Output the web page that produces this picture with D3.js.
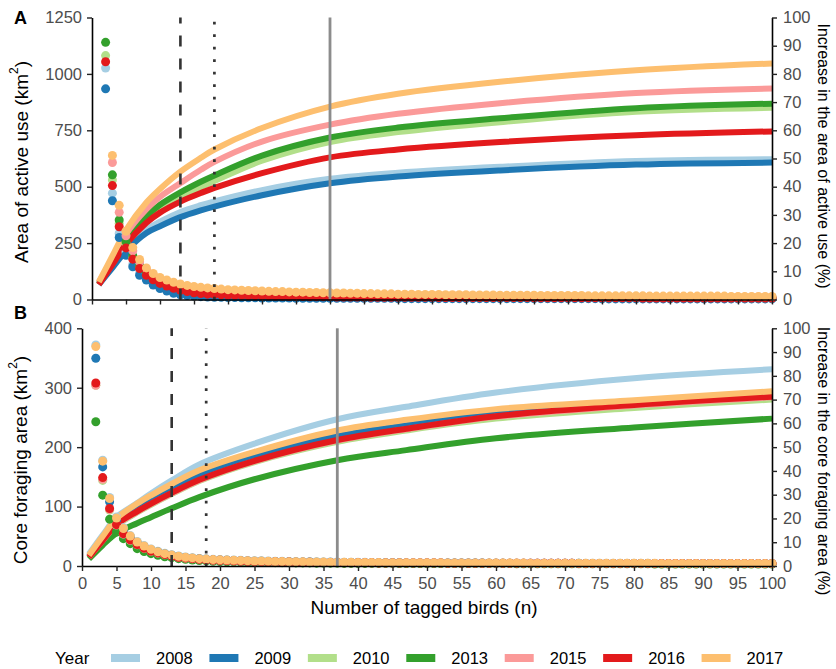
<!DOCTYPE html>
<html>
<head>
<meta charset="utf-8">
<script src="https://cdn.jsdelivr.net/npm/d3@7"></script>
<style>
  body { margin: 0; background: #fff; }
  svg { display: block; }
  text { font-family: "Liberation Sans", Arial, Helvetica, sans-serif; }
</style>
</head>
<body>
<svg id="chart" width="836" height="669"></svg>
<script>
// ---- categories and styling ----
const years  = ["2008", "2009", "2010", "2013", "2015", "2016", "2017"];
const colors = ["#a6cee3", "#1f78b4", "#b2df8a", "#33a02c", "#fb9a99", "#e31a1c", "#fdbf6f"];

// ---- tick labels ----
const xTicks      = [0, 5, 10, 15, 20, 25, 30, 35, 40, 45, 50, 55, 60, 65, 70, 75, 80, 85, 90, 95, 100];
const activeTicks = [0, 250, 500, 750, 1000, 1250];
const coreTicks   = [0, 100, 200, 300, 400];
const pctTicks    = [0, 10, 20, 30, 40, 50, 60, 70, 80, 90, 100];

// ---- accumulation curves: area (km²) against number of tagged birds ----
const activeN    = [1, 3, 5, 8, 10, 13, 16, 18, 25, 35, 45, 60, 80, 100];
const active2008 = [68, 146, 225, 310, 345, 388, 418, 435, 485, 535, 562, 588, 614, 622];
const active2009 = [66, 140, 215, 295, 325, 365, 395, 412, 462, 515, 545, 572, 598, 607];
const active2010 = [68, 164, 260, 355, 400, 452, 498, 525, 615, 698, 742, 786, 832, 850];
const active2013 = [70, 170, 270, 370, 420, 475, 522, 550, 638, 718, 762, 803, 848, 868];
const active2015 = [75, 183, 290, 400, 455, 516, 575, 610, 700, 775, 823, 870, 915, 935];
const active2016 = [66, 155, 245, 340, 385, 434, 472, 495, 560, 630, 665, 698, 728, 745];
const active2017 = [78, 193, 308, 430, 490, 567, 628, 665, 760, 855, 912, 965, 1016, 1046];

const coreN    = [1, 3, 5, 8, 10, 13, 17, 25, 37, 47, 60, 80, 100];
const core2008 = [20, 52, 82, 106, 122, 144, 171, 206, 247, 268, 292, 316, 331];
const core2009 = [16, 45, 73, 96, 110, 129, 153, 184, 219, 237, 258, 273, 287];
const core2010 = [14, 42, 68, 90, 103, 121, 143, 175, 209, 228, 248, 266, 280];
const core2013 = [12, 35, 55, 72, 82, 97, 116, 146, 178, 195, 215, 233, 248];
const core2015 = [15, 43, 69, 91, 104, 122, 144, 176, 211, 230, 251, 270, 284];
const core2016 = [15, 43, 70, 92, 105, 123, 145, 177, 212, 231, 252, 271, 285];
const core2017 = [18, 50, 80, 105, 119, 138, 161, 192, 228, 246, 264, 279, 294];

// ---- increase in area (%) with each added bird, n = 2 .. 100 ----
// null: value beyond the 100 % axis limit
const activeInc2008 = [82.1, 37.7, 23.5, 16.8, 12.5, 9.4, 7.4, 5.8, 4.7, 3.8, 3.1, 2.6, 2.2, 1.9, 1.7, 1.5,
  1.4, 1.3, 1.2, 1.1, 1.0, 1.0, 0.9, 0.9, 0.8, 0.8, 0.8, 0.7, 0.7,
  0.7, 0.7, 0.6, 0.6, 0.6, 0.6, 0.6, 0.6, 0.6, 0.6,
  0.6, 0.6, 0.6, 0.6, 0.5, 0.5, 0.5, 0.5, 0.5, 0.5,
  0.5, 0.5, 0.5, 0.5, 0.5, 0.5, 0.5, 0.5, 0.5, 0.5,
  0.5, 0.5, 0.5, 0.4, 0.4, 0.4, 0.4, 0.4, 0.4, 0.4,
  0.4, 0.4, 0.4, 0.4, 0.4, 0.4, 0.4, 0.4, 0.4, 0.4,
  0.4, 0.4, 0.4, 0.4, 0.4, 0.4, 0.3, 0.3, 0.3, 0.3,
  0.3, 0.3, 0.3, 0.3, 0.3, 0.3, 0.3, 0.3, 0.3, 0.3];
const activeInc2009 = [74.7, 35.0, 22.0, 15.7, 11.6, 8.6, 6.9, 5.1, 3.9, 3.0, 2.2, 1.7, 1.4, 1.2, 1.0, 0.9,
  0.8, 0.8, 0.7, 0.7, 0.6, 0.6, 0.6, 0.5, 0.5, 0.5, 0.5, 0.5, 0.4,
  0.4, 0.4, 0.4, 0.4, 0.4, 0.4, 0.4, 0.4, 0.4, 0.4,
  0.4, 0.4, 0.4, 0.4, 0.3, 0.3, 0.3, 0.3, 0.3, 0.3,
  0.3, 0.3, 0.3, 0.3, 0.3, 0.3, 0.3, 0.3, 0.3, 0.3,
  0.3, 0.3, 0.3, 0.3, 0.3, 0.3, 0.3, 0.3, 0.3, 0.3,
  0.3, 0.3, 0.3, 0.3, 0.2, 0.2, 0.2, 0.2, 0.2, 0.2,
  0.2, 0.2, 0.2, 0.2, 0.2, 0.2, 0.2, 0.2, 0.2, 0.2,
  0.2, 0.2, 0.2, 0.2, 0.2, 0.2, 0.2, 0.2, 0.2, 0.2];
const activeInc2010 = [86.5, 42.4, 27.0, 19.8, 15.0, 11.7, 9.3, 7.6, 6.3, 5.4, 4.7, 4.2, 3.8, 3.4, 3.1, 2.9,
  2.7, 2.5, 2.4, 2.3, 2.2, 2.1, 2.0, 1.9, 1.9, 1.8, 1.7, 1.7, 1.6,
  1.6, 1.5, 1.5, 1.4, 1.4, 1.4, 1.3, 1.3, 1.3, 1.2,
  1.2, 1.2, 1.2, 1.1, 1.1, 1.1, 1.1, 1.1, 1.0, 1.0,
  1.0, 1.0, 1.0, 1.0, 0.9, 0.9, 0.9, 0.9, 0.9, 0.9,
  0.9, 0.9, 0.9, 0.9, 0.8, 0.8, 0.8, 0.8, 0.8, 0.8,
  0.8, 0.8, 0.8, 0.8, 0.8, 0.8, 0.8, 0.8, 0.7, 0.7,
  0.7, 0.7, 0.7, 0.7, 0.7, 0.7, 0.7, 0.7, 0.7, 0.7,
  0.7, 0.7, 0.7, 0.6, 0.6, 0.6, 0.6, 0.6, 0.6, 0.6];
const activeInc2013 = [91.2, 44.2, 28.2, 20.5, 15.5, 12.0, 9.6, 7.8, 6.5, 5.6, 4.9, 4.3, 3.9, 3.5, 3.2, 3.0,
  2.8, 2.6, 2.5, 2.4, 2.3, 2.2, 2.1, 2.0, 1.9, 1.9, 1.8, 1.7, 1.7,
  1.6, 1.6, 1.5, 1.5, 1.5, 1.4, 1.4, 1.4, 1.3, 1.3,
  1.3, 1.2, 1.2, 1.2, 1.2, 1.1, 1.1, 1.1, 1.1, 1.1,
  1.0, 1.0, 1.0, 1.0, 1.0, 1.0, 0.9, 0.9, 0.9, 0.9,
  0.9, 0.9, 0.9, 0.9, 0.9, 0.9, 0.8, 0.8, 0.8, 0.8,
  0.8, 0.8, 0.8, 0.8, 0.8, 0.8, 0.8, 0.8, 0.8, 0.8,
  0.8, 0.8, 0.7, 0.7, 0.7, 0.7, 0.7, 0.7, 0.7, 0.7,
  0.7, 0.7, 0.7, 0.7, 0.7, 0.7, 0.7, 0.7, 0.7, 0.7];
const activeInc2015 = [null, 48.6, 30.9, 22.6, 17.3, 13.4, 10.6, 8.7, 7.3, 6.4, 5.6, 5.0, 4.5, 4.1, 3.8, 3.6,
  3.4, 3.2, 3.0, 2.9, 2.8, 2.7, 2.6, 2.5, 2.4, 2.3, 2.3, 2.2, 2.1,
  2.1, 2.0, 2.0, 1.9, 1.9, 1.8, 1.8, 1.7, 1.7, 1.7,
  1.6, 1.6, 1.6, 1.5, 1.5, 1.5, 1.5, 1.4, 1.4, 1.4,
  1.4, 1.3, 1.3, 1.3, 1.3, 1.3, 1.2, 1.2, 1.2, 1.2,
  1.2, 1.2, 1.1, 1.1, 1.1, 1.1, 1.1, 1.1, 1.1, 1.0,
  1.0, 1.0, 1.0, 1.0, 1.0, 1.0, 1.0, 1.0, 1.0, 1.0,
  1.0, 1.0, 0.9, 0.9, 0.9, 0.9, 0.9, 0.9, 0.9, 0.9,
  0.9, 0.9, 0.9, 0.9, 0.9, 0.9, 0.9, 0.9, 0.9, 0.9];
const activeInc2016 = [84.3, 40.4, 25.8, 18.3, 14.3, 11.0, 8.6, 7.0, 5.7, 4.8, 4.0, 3.3, 2.8, 2.4, 2.1, 1.9,
  1.8, 1.7, 1.6, 1.5, 1.5, 1.4, 1.4, 1.3, 1.3, 1.2, 1.2, 1.1, 1.1,
  1.1, 1.0, 1.0, 1.0, 1.0, 0.9, 0.9, 0.9, 0.9, 0.9,
  0.8, 0.8, 0.8, 0.8, 0.8, 0.8, 0.8, 0.8, 0.8, 0.8,
  0.7, 0.7, 0.7, 0.7, 0.7, 0.7, 0.7, 0.7, 0.7, 0.7,
  0.7, 0.7, 0.7, 0.7, 0.6, 0.6, 0.6, 0.6, 0.6, 0.6,
  0.6, 0.6, 0.6, 0.6, 0.6, 0.6, 0.6, 0.6, 0.6, 0.6,
  0.5, 0.5, 0.5, 0.5, 0.5, 0.5, 0.5, 0.5, 0.5, 0.5,
  0.5, 0.5, 0.5, 0.5, 0.5, 0.5, 0.5, 0.5, 0.5, 0.5];
const activeInc2017 = [null, 51.1, 33.4, 24.2, 18.4, 14.2, 11.2, 9.2, 7.8, 6.9, 6.1, 5.5, 5.0, 4.6, 4.3, 4.1,
  3.9, 3.7, 3.5, 3.4, 3.3, 3.2, 3.1, 3.0, 2.9, 2.8, 2.8, 2.7, 2.6,
  2.6, 2.5, 2.5, 2.4, 2.4, 2.3, 2.3, 2.2, 2.2, 2.1,
  2.1, 2.0, 2.0, 2.0, 1.9, 1.9, 1.9, 1.8, 1.8, 1.8,
  1.8, 1.7, 1.7, 1.7, 1.7, 1.6, 1.6, 1.6, 1.6, 1.5,
  1.5, 1.5, 1.5, 1.5, 1.5, 1.4, 1.4, 1.4, 1.4, 1.4,
  1.4, 1.4, 1.3, 1.3, 1.3, 1.3, 1.3, 1.3, 1.3, 1.3,
  1.3, 1.2, 1.2, 1.2, 1.2, 1.2, 1.2, 1.2, 1.2, 1.2,
  1.2, 1.2, 1.2, 1.1, 1.1, 1.1, 1.1, 1.1, 1.1, 1.1];

const coreInc2008 = [93.0, 44.5, 28.8, 20.6, 16.1, 12.8, 10.3, 8.6, 7.2, 6.2, 5.4, 4.7, 4.2, 3.8, 3.5, 3.2,
  3.0, 2.8, 2.7, 2.6, 2.5, 2.4, 2.3, 2.2, 2.2, 2.1, 2.0, 2.0, 1.9,
  1.9, 1.8, 1.8, 1.8, 1.7, 1.7, 1.7, 1.6, 1.6, 1.6,
  1.6, 1.5, 1.5, 1.5, 1.5, 1.5, 1.4, 1.4, 1.4, 1.4,
  1.4, 1.4, 1.3, 1.3, 1.3, 1.3, 1.3, 1.3, 1.3, 1.3,
  1.3, 1.2, 1.2, 1.2, 1.2, 1.2, 1.2, 1.2, 1.2, 1.2,
  1.2, 1.2, 1.2, 1.2, 1.2, 1.2, 1.2, 1.2, 1.2, 1.2,
  1.2, 1.2, 1.1, 1.1, 1.1, 1.1, 1.1, 1.1, 1.1, 1.1,
  1.1, 1.1, 1.1, 1.1, 1.1, 1.1, 1.1, 1.1, 1.1, 1.1];
const coreInc2009 = [87.4, 41.7, 27.0, 19.3, 15.0, 12.0, 9.7, 8.1, 6.8, 5.9, 5.1, 4.5, 4.0, 3.6, 3.3, 3.0,
  2.8, 2.6, 2.5, 2.4, 2.3, 2.2, 2.1, 2.0, 2.0, 1.9, 1.9, 1.8, 1.8,
  1.7, 1.7, 1.7, 1.6, 1.6, 1.6, 1.5, 1.5, 1.5, 1.5,
  1.4, 1.4, 1.4, 1.4, 1.4, 1.4, 1.3, 1.3, 1.3, 1.3,
  1.3, 1.3, 1.3, 1.3, 1.3, 1.3, 1.3, 1.3, 1.2, 1.2,
  1.2, 1.2, 1.2, 1.2, 1.2, 1.2, 1.2, 1.2, 1.2, 1.2,
  1.2, 1.2, 1.1, 1.1, 1.1, 1.1, 1.1, 1.1, 1.1, 1.1,
  1.1, 1.1, 1.1, 1.1, 1.1, 1.1, 1.1, 1.1, 1.1, 1.1,
  1.1, 1.1, 1.0, 1.0, 1.0, 1.0, 1.0, 1.0, 1.0, 1.0];
const coreInc2010 = [76.0, 36.0, 23.5, 17.0, 13.3, 10.7, 8.8, 7.3, 6.1, 5.3, 4.6, 4.1, 3.6, 3.3, 3.0, 2.7,
  2.5, 2.4, 2.3, 2.2, 2.1, 2.0, 1.9, 1.9, 1.8, 1.8, 1.7, 1.7, 1.6,
  1.6, 1.6, 1.5, 1.5, 1.5, 1.4, 1.4, 1.4, 1.4, 1.3,
  1.3, 1.3, 1.3, 1.3, 1.3, 1.3, 1.3, 1.3, 1.2, 1.2,
  1.2, 1.2, 1.2, 1.2, 1.2, 1.2, 1.2, 1.2, 1.2, 1.2,
  1.2, 1.2, 1.1, 1.1, 1.1, 1.1, 1.1, 1.1, 1.1, 1.1,
  1.1, 1.1, 1.1, 1.1, 1.1, 1.1, 1.1, 1.1, 1.1, 1.1,
  1.1, 1.0, 1.0, 1.0, 1.0, 1.0, 1.0, 1.0, 1.0, 1.0,
  1.0, 1.0, 1.0, 1.0, 1.0, 1.0, 1.0, 1.0, 1.0, 1.0];
const coreInc2013 = [60.7, 29.8, 19.7, 14.3, 11.5, 9.4, 7.3, 6.1, 5.2, 4.5, 3.9, 3.5, 3.1, 2.8, 2.5, 2.3,
  2.2, 2.0, 1.9, 1.8, 1.8, 1.7, 1.6, 1.6, 1.5, 1.5, 1.4, 1.4, 1.4,
  1.3, 1.3, 1.3, 1.2, 1.2, 1.2, 1.2, 1.1, 1.1, 1.1,
  1.1, 1.1, 1.1, 1.1, 1.1, 1.0, 1.0, 1.0, 1.0, 1.0,
  1.0, 1.0, 1.0, 1.0, 1.0, 1.0, 1.0, 1.0, 1.0, 1.0,
  1.0, 1.0, 0.9, 0.9, 0.9, 0.9, 0.9, 0.9, 0.9, 0.9,
  0.9, 0.9, 0.9, 0.9, 0.9, 0.9, 0.9, 0.9, 0.9, 0.9,
  0.9, 0.9, 0.8, 0.8, 0.8, 0.8, 0.8, 0.8, 0.8, 0.8,
  0.8, 0.8, 0.8, 0.8, 0.8, 0.8, 0.8, 0.8, 0.8, 0.8];
const coreInc2015 = [76.0, 36.5, 23.8, 17.2, 13.4, 10.8, 8.9, 7.4, 6.2, 5.4, 4.7, 4.2, 3.7, 3.3, 3.0, 2.8,
  2.6, 2.4, 2.3, 2.2, 2.1, 2.0, 2.0, 1.9, 1.8, 1.8, 1.7, 1.7, 1.6,
  1.6, 1.6, 1.5, 1.5, 1.5, 1.5, 1.4, 1.4, 1.4, 1.4,
  1.4, 1.3, 1.3, 1.3, 1.3, 1.3, 1.3, 1.3, 1.3, 1.3,
  1.3, 1.3, 1.2, 1.2, 1.2, 1.2, 1.2, 1.2, 1.2, 1.2,
  1.2, 1.2, 1.2, 1.2, 1.2, 1.2, 1.2, 1.2, 1.2, 1.2,
  1.2, 1.1, 1.1, 1.1, 1.1, 1.1, 1.1, 1.1, 1.1, 1.1,
  1.1, 1.1, 1.1, 1.1, 1.1, 1.1, 1.1, 1.1, 1.1, 1.1,
  1.0, 1.0, 1.0, 1.0, 1.0, 1.0, 1.0, 1.0, 1.0, 1.0];
const coreInc2016 = [77.0, 37.2, 24.2, 17.4, 13.6, 11.0, 9.0, 7.5, 6.3, 5.5, 4.8, 4.2, 3.7, 3.4, 3.1, 2.8,
  2.6, 2.5, 2.4, 2.3, 2.2, 2.1, 2.0, 1.9, 1.9, 1.8, 1.8, 1.7, 1.7,
  1.6, 1.6, 1.6, 1.5, 1.5, 1.5, 1.5, 1.4, 1.4, 1.4,
  1.4, 1.4, 1.3, 1.3, 1.3, 1.3, 1.3, 1.3, 1.3, 1.3,
  1.3, 1.3, 1.2, 1.2, 1.2, 1.2, 1.2, 1.2, 1.2, 1.2,
  1.2, 1.2, 1.2, 1.2, 1.2, 1.2, 1.2, 1.2, 1.2, 1.2,
  1.2, 1.1, 1.1, 1.1, 1.1, 1.1, 1.1, 1.1, 1.1, 1.1,
  1.1, 1.1, 1.1, 1.1, 1.1, 1.1, 1.1, 1.1, 1.1, 1.1,
  1.1, 1.0, 1.0, 1.0, 1.0, 1.0, 1.0, 1.0, 1.0, 1.0];
const coreInc2017 = [92.3, 44.1, 28.4, 20.2, 15.8, 12.6, 10.1, 8.4, 7.0, 6.0, 5.2, 4.6, 4.1, 3.7, 3.4, 3.1,
  2.9, 2.7, 2.6, 2.5, 2.4, 2.3, 2.2, 2.1, 2.1, 2.0, 1.9, 1.9, 1.8,
  1.8, 1.8, 1.7, 1.7, 1.7, 1.6, 1.6, 1.6, 1.6, 1.5,
  1.5, 1.5, 1.5, 1.4, 1.4, 1.4, 1.4, 1.4, 1.4, 1.4,
  1.4, 1.4, 1.3, 1.3, 1.3, 1.3, 1.3, 1.3, 1.3, 1.3,
  1.3, 1.3, 1.3, 1.3, 1.2, 1.2, 1.2, 1.2, 1.2, 1.2,
  1.2, 1.2, 1.2, 1.2, 1.2, 1.2, 1.2, 1.2, 1.2, 1.2,
  1.2, 1.2, 1.2, 1.1, 1.1, 1.1, 1.1, 1.1, 1.1, 1.1,
  1.1, 1.1, 1.1, 1.1, 1.1, 1.1, 1.1, 1.1, 1.1, 1.1];

// ---- reference sample sizes: dashed, dotted, solid ----
const activeMarks = [13, 18, 35];
const coreMarks   = [13, 18, 37];

const svg = d3.select("#chart");
const TICK_GREY = "#4d4d4d";

function drawPanel(cfg) {
  const x = d3.scaleLinear().domain([0, 100]).range([cfg.left, cfg.right]);
  const y = d3.scaleLinear().domain([0, cfg.yMax]).range([cfg.bottom, cfg.top]);
  const yPct = d3.scaleLinear().domain([0, 100]).range([cfg.bottom, cfg.top]);
  const g = svg.append("g");

  // fitted accumulation curves
  const line = d3.line()
    .x(d => x(d[0]))
    .y(d => y(d[1]))
    .curve(d3.curveCatmullRom.alpha(0.5));
  cfg.curves.forEach((vals, i) => {
    g.append("path")
      .datum(d3.zip(cfg.n, vals))
      .attr("d", line)
      .attr("fill", "none")
      .attr("stroke", colors[i])
      .attr("stroke-width", 6);
  });

  // percentage increase per added bird
  cfg.inc.forEach((vals, i) => {
    const pts = vals.map((v, k) => [k + 2, v]).filter(d => d[1] != null);
    g.append("g").selectAll("circle")
      .data(pts)
      .join("circle")
      .attr("cx", d => x(d[0]))
      .attr("cy", d => yPct(d[1]))
      .attr("r", 4.5)
      .attr("fill", colors[i]);
  });

  // reference sample sizes
  const styles = [
    { stroke: "#333333", width: 2.6, dash: "11,12" },
    { stroke: "#333333", width: 2.7, dash: "2.7,9.8" },
    { stroke: "#8c8c8c", width: 2.8, dash: null }
  ];
  cfg.marks.forEach((m, i) => {
    const s = styles[i];
    g.append("line")
      .attr("x1", x(m)).attr("x2", x(m))
      .attr("y1", cfg.bottom).attr("y2", cfg.top)
      .attr("stroke", s.stroke)
      .attr("stroke-width", s.width)
      .attr("stroke-dasharray", s.dash);
  });

  // axes
  const styleAxis = sel => {
    sel.selectAll(".domain").attr("stroke", "#000").attr("stroke-width", 1.6);
    sel.selectAll(".tick line").attr("stroke", "#222").attr("stroke-width", 1.4);
    sel.selectAll(".tick text")
      .attr("fill", TICK_GREY)
      .style("font-size", "16.5px")
      .style("font-family", '"Liberation Sans", Arial, sans-serif');
  };

  g.append("g")
    .attr("transform", `translate(${cfg.left},0)`)
    .call(d3.axisLeft(y).tickValues(cfg.yTicks).tickFormat(d3.format("d"))
      .tickSize(5).tickSizeOuter(0).tickPadding(5))
    .call(styleAxis);

  g.append("g")
    .attr("transform", `translate(${cfg.right},0)`)
    .call(d3.axisRight(yPct).tickValues(pctTicks).tickFormat(d3.format("d"))
      .tickSize(5).tickSizeOuter(0).tickPadding(6))
    .call(styleAxis);

  const xAxis = d3.axisBottom(x).tickValues(xTicks).tickSize(5).tickSizeOuter(0).tickPadding(6);
  xAxis.tickFormat(cfg.xLabels ? d3.format("d") : "");
  g.append("g")
    .attr("transform", `translate(0,${cfg.bottom})`)
    .call(xAxis)
    .call(styleAxis);

  // axis titles
  const lt = g.append("text")
    .attr("transform", `translate(${cfg.leftTitleX},${cfg.leftTitleY}) rotate(-90)`)
    .attr("text-anchor", "middle")
    .attr("dominant-baseline", "central")
    .style("font-size", "19px")
    .attr("fill", "#000");
  lt.append("tspan").text(cfg.leftTitle + " (km");
  lt.append("tspan").text("2").attr("baseline-shift", "super").style("font-size", "12px");
  lt.append("tspan").text(")");

  g.append("text")
    .attr("transform", `translate(${cfg.rightTitleX},${cfg.rightTitleY}) rotate(90)`)
    .attr("text-anchor", "middle")
    .attr("dominant-baseline", "central")
    .style("font-size", "16px")
    .attr("fill", "#000")
    .text(cfg.rightTitle);

  g.append("text")
    .attr("x", 14).attr("y", cfg.tagY)
    .style("font-size", "18px")
    .style("font-weight", "bold")
    .attr("fill", "#000")
    .text(cfg.tag);
}

drawPanel({
  tag: "A", tagY: 24,
  left: 92, right: 772, top: 17.5, bottom: 299.5,
  yMax: 1250, yTicks: activeTicks, xLabels: false,
  n: activeN,
  curves: [active2008, active2009, active2010, active2013, active2015, active2016, active2017],
  inc: [activeInc2008, activeInc2009, activeInc2010, activeInc2013, activeInc2015, activeInc2016, activeInc2017],
  marks: activeMarks,
  leftTitle: "Area of active use", leftTitleX: 21, leftTitleY: 162,
  rightTitle: "Increase in the area of active use (%)", rightTitleX: 823, rightTitleY: 156
});

drawPanel({
  tag: "B", tagY: 319,
  left: 82, right: 772, top: 328.3, bottom: 566,
  yMax: 400, yTicks: coreTicks, xLabels: true,
  n: coreN,
  curves: [core2008, core2009, core2010, core2013, core2015, core2016, core2017],
  inc: [coreInc2008, coreInc2009, coreInc2010, coreInc2013, coreInc2015, coreInc2016, coreInc2017],
  marks: coreMarks,
  leftTitle: "Core foraging area", leftTitleX: 20, leftTitleY: 460,
  rightTitle: "Increase in the core foraging area (%)", rightTitleX: 823, rightTitleY: 461
});

// x axis title
svg.append("text")
  .attr("x", 424).attr("y", 614)
  .attr("text-anchor", "middle")
  .style("font-size", "19px")
  .attr("fill", "#000")
  .text("Number of tagged birds (n)");

// legend
const legend = svg.append("g");
legend.append("text")
  .attr("x", 55).attr("y", 664)
  .style("font-size", "17px")
  .attr("fill", "#000")
  .text("Year");
const legendX = d3.scaleBand().domain(years).range([111, 800]);
years.forEach((yr, i) => {
  const x0 = legendX(yr);
  legend.append("rect")
    .attr("x", x0).attr("y", 654)
    .attr("width", 29).attr("height", 8)
    .attr("fill", colors[i]);
  legend.append("text")
    .attr("x", x0 + 45).attr("y", 664)
    .style("font-size", "16.5px")
    .attr("fill", "#000")
    .text(yr);
});
</script>
</body>
</html>
